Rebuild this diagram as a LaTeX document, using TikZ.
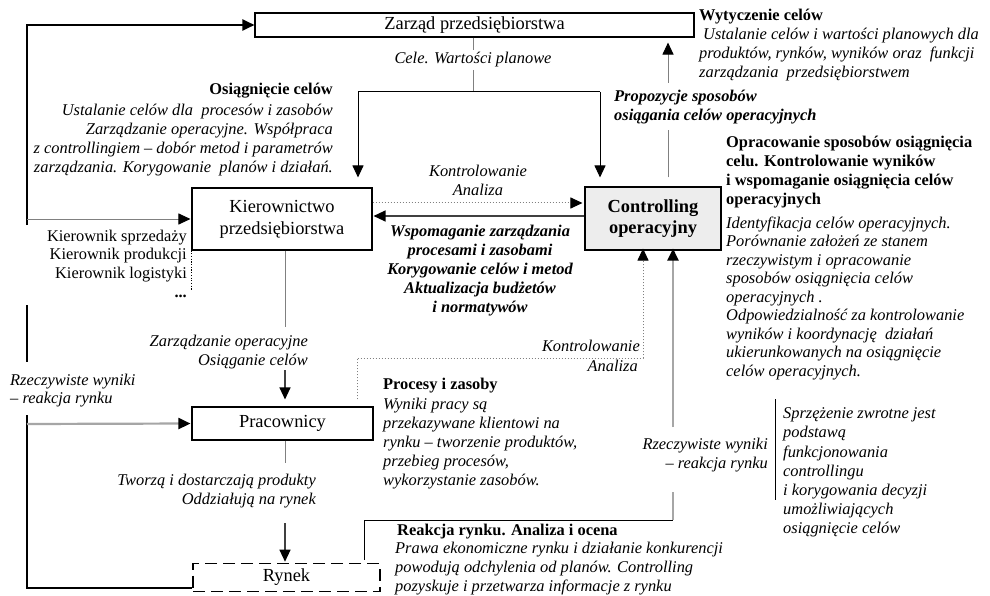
\documentclass[tikz,border=0pt]{standalone}
\usepackage{fontspec}
\setmainfont{Liberation Serif}
\usetikzlibrary{arrows.meta}

\definecolor{lightline}{HTML}{A6A6A6}
\definecolor{midline}{HTML}{808080}
\definecolor{darkline}{HTML}{404040}
\definecolor{ctrlfill}{HTML}{EDEDED}

\tikzset{
  boxnode/.style={draw=black, line width=1.1pt, inner sep=0pt, align=center,
    font=\fontsize{18.4}{22}\selectfont},
  itext/.style={inner sep=0pt, font=\fontsize{16.4}{19}\selectfont\itshape},
  btext/.style={inner sep=0pt, font=\fontsize{16.4}{19}\selectfont\bfseries},
  bitext/.style={inner sep=0pt, font=\fontsize{16.4}{19}\selectfont\bfseries\itshape},
  rtext/.style={inner sep=0pt, font=\fontsize{16.4}{18.7}\selectfont},
  outerline/.style={draw=black, line width=2pt},
  thinline/.style={draw=midline, line width=1pt},
  blackline/.style={draw=black, line width=1pt},
  darkstroke/.style={draw=darkline, line width=1.2pt},
  feedline/.style={draw=lightline, line width=2.2pt},
  dotline/.style={draw=midline, line width=1pt, dash pattern=on 1.5pt off 1.5pt},
  arrowhd/.style={-{Triangle[length=12pt,width=11pt,color=black]}}
}

\begin{document}
\begin{tikzpicture}[x=1pt,y=-1pt]
\fill[white] (0,0) rectangle (990,596);
\useasboundingbox (0,0) rectangle (990,596);

% boxes
\node[boxnode, minimum width=439pt, minimum height=24pt] (zarzad) at (474.5,25) {Zarząd przedsiębiorstwa};
\node[boxnode, minimum width=180pt, minimum height=62pt] (kier) at (282,219) {Kierownictwo\\przedsiębiorstwa};
\node[boxnode, fill=ctrlfill, minimum width=136pt, minimum height=63pt,
      font=\fontsize{18.4}{21}\selectfont\bfseries] (ctrl) at (653,218.5) {Controlling\\operacyjny};
\node[boxnode, minimum width=181pt, minimum height=33pt] (prac) at (282.5,423.5) {Pracownicy};
\node[boxnode, line width=1.6pt, dash pattern=on 12pt off 6pt, minimum width=187pt, minimum height=28pt] (rynek) at (286.5,577.5) {Rynek};

% routing points
\coordinate (fa) at (27,225);
\coordinate (fb) at (27,305);
\coordinate (fc) at (27,362);
\coordinate (fd) at (27,415);
\coordinate (fe) at (27,588);
\coordinate (fk) at (27,219);
\coordinate (fp) at (27,424);
\coordinate (zg1) at (473,50);
\coordinate (zg2) at (473,70);
\coordinate (zs) at (473,92);
\coordinate (zl) at (358,92);
\coordinate (zr) at (600,92);
\coordinate (cu1) at (668,130);
\coordinate (cu2) at (668,83);
\coordinate (dk) at (480,203);
\coordinate (sk) at (480,216);
\coordinate (kp1) at (285,327);
\coordinate (kp2) at (285,370);
\coordinate (pr1) at (285,463);
\coordinate (pr2) at (285,523);
\coordinate (dp1) at (357,358);
\coordinate (dp2) at (643,358);
\coordinate (rc1) at (364,520);
\coordinate (rc2) at (673,520);
\coordinate (rc3) at (673,492);
\coordinate (rc4) at (673,427);
\coordinate (b1) at (775,399);
\coordinate (b2) at (775,500);
\coordinate (kd) at (192,290);

% outer feedback frame
\draw[outerline, arrowhd] (fa) |- (zarzad.west);
\draw[outerline] (fb) -- (fc);
\draw[outerline] (fd) -- (fe) -- (fe -| rynek.west);
\draw[thinline, arrowhd, shorten >=1pt] (fk) -- (kier.west);
\draw[feedline, arrowhd, shorten >=1pt] (fp) -- (prac.west);

% from the board down to management and controlling
\draw[thinline] (zarzad.south -| zg1) -- (zg1);
\draw[thinline] (zg2) -- (zs);
\draw[blackline] (zl) -- (zr);
\draw[blackline, arrowhd, shorten >=10pt] (zl) -- (zl |- kier.north);
\draw[blackline, arrowhd, shorten >=9pt] (zr) -- (zr |- ctrl.north);

% proposals up to the board
\draw[thinline, shorten <=9pt] (ctrl.north -| cu1) -- (cu1);
\draw[thinline, arrowhd, shorten >=5pt] (cu2) -- (cu2 |- zarzad.south);

% management <-> controlling
\draw[dotline, arrowhd, shorten >=2pt] (kier.east |- dk) -- (ctrl.west |- dk);
\draw[darkstroke, arrowhd, shorten >=1pt] (ctrl.west |- sk) -- (kier.east |- sk);

% management -> employees -> market
\draw[thinline] (kier.south -| kp1) -- (kp1);
\draw[darkstroke, arrowhd, shorten >=7pt] (kp2) -- (kp2 |- prac.north);
\draw[thinline] (prac.south -| pr1) -- (pr1);
\draw[darkstroke, arrowhd, shorten >=1pt] (pr2) -- (pr2 |- rynek.north);

% employees -> controlling (dotted)
\draw[dotline, arrowhd, shorten <=7pt, shorten >=-2pt] (prac.north -| dp1) -- (dp1) -- (dp2) -- (dp2 |- ctrl.south);

% market -> controlling
\draw[blackline, shorten <=3pt] (rynek.north -| rc1) -- (rc1) -- (rc2);
\draw[feedline] (rc2) -- (rc3);
\draw[feedline, arrowhd, shorten >=-2pt] (rc4) -- (rc4 |- ctrl.south);

% feedback note bar and list of managers
\draw[blackline] (b1) -- (b2);
\draw[draw=black, line width=1pt, dash pattern=on 1.2pt off 1.5pt] (kier.south west) -- (kier.south west |- kd);

% texts
\node[itext] (cele) at (473,60) {Cele. Wartości planowe};

\node[btext, anchor=north west] (wyt) at (699,7) {\strut Wytyczenie celów};
\node[itext, anchor=north west, align=left] (wytd) at (699,26) {\strut\hspace*{4pt}Ustalanie celów i wartości planowych dla\\produktów, rynków, wyników oraz\ \ funkcji\\zarządzania\ \ przedsiębiorstwem};

\node[bitext, anchor=north west, align=left] (prop) at (614,88) {\strut Propozycje sposobów\\osiągania celów operacyjnych};

\node[btext, anchor=north east] (osi) at (333,81) {\strut Osiągnięcie celów};
\node[itext, anchor=north east, align=right] (osid) at (333,102) {\strut Ustalanie celów dla\ \ procesów i zasobów\\Zarządzanie operacyjne. Współpraca\\z controllingiem – dobór metod i parametrów\\zarządzania. Korygowanie\ \ planów i działań.};

\node[itext, anchor=north, align=center] (kontr1) at (478,163) {\strut Kontrolowanie\\Analiza};

\node[bitext, anchor=north, align=center] (wsp) at (480,223) {\strut Wspomaganie zarządzania\\procesami i zasobami\\Korygowanie celów i metod\\Aktualizacja budżetów\\i normatywów};

\node[btext, anchor=north west, align=left] (opr) at (726,134) {\strut Opracowanie sposobów osiągnięcia\\celu. Kontrolowanie wyników\\i wspomaganie osiągnięcia celów\\operacyjnych};
\node[itext, font=\fontsize{16.4}{18.5}\selectfont\itshape, anchor=north west, align=left] (oprd) at (726,215) {\strut Identyfikacja celów operacyjnych.\\Porównanie założeń ze stanem\\rzeczywistym i opracowanie\\sposobów osiągnięcia celów\\operacyjnych .\\Odpowiedzialność za kontrolowanie\\wyników i koordynację\ \ działań\\ukierunkowanych na osiągnięcie\\celów operacyjnych.};

\node[rtext, anchor=north east, align=right] (kierl) at (187,228) {\strut Kierownik sprzedaży\\Kierownik produkcji\\Kierownik logistyki\\\textbf{...}};

\node[itext, anchor=north east, align=right] (zop) at (308,333) {\strut Zarządzanie operacyjne\\Osiąganie celów};

\node[itext, font=\fontsize{16.4}{18}\selectfont\itshape, anchor=north west, align=left] (rzl) at (10,373) {\strut Rzeczywiste wyniki\\– reakcja rynku};

\node[itext, anchor=north east, align=right] (tw) at (316,472) {\strut Tworzą i dostarczają produkty\\Oddziałują na rynek};

\node[itext, anchor=north east] (kontr2) at (640,338) {\strut Kontrolowanie};
\node[itext, anchor=north east] (anal2) at (638,358) {\strut Analiza};

\node[btext, anchor=north west] (proc) at (383,376) {\strut Procesy i zasoby};
\node[itext, anchor=north west, align=left] (procd) at (383,396) {\strut Wyniki pracy są\\przekazywane klientowi na\\rynku – tworzenie produktów,\\przebieg procesów,\\wykorzystanie zasobów.};

\node[itext, anchor=north east, align=right] (rzr) at (768,436) {\strut Rzeczywiste wyniki\\– reakcja rynku};

\node[itext, font=\fontsize{16.4}{19.2}\selectfont\itshape, anchor=north west, align=left] (sprz) at (783,405) {\strut Sprzężenie zwrotne jest\\podstawą\\funkcjonowania\\controllingu\\i korygowania decyzji\\umożliwiających\\osiągnięcie celów};

\node[btext, anchor=north west] (reak) at (397,522) {\strut Reakcja rynku. Analiza i ocena};
\node[itext, anchor=north west, align=left] (reakd) at (395,540) {\strut Prawa ekonomiczne rynku i działanie konkurencji\\powodują odchylenia od planów. Controlling\\pozyskuje i przetwarza informacje z rynku};

\end{tikzpicture}
\end{document}
